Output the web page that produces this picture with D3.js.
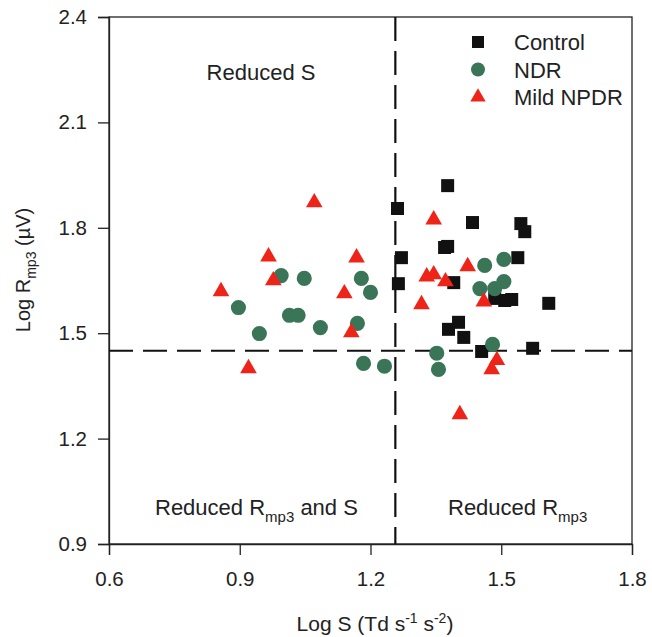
<!DOCTYPE html>
<html>
<head>
<meta charset="utf-8">
<script src="https://cdn.jsdelivr.net/npm/d3@7"></script>
<style>
  body { margin: 0; background: #fff; }
  svg text { font-family: "Liberation Sans", Arial, sans-serif; fill: #222; }
</style>
</head>
<body>
<svg id="chart" width="652" height="637"></svg>
<script>
"use strict";

// ticks
var xTicks = [0.6, 0.9, 1.2, 1.5, 1.8];
var yTicks = [0.9, 1.2, 1.5, 1.8, 2.1, 2.4];

// cut-off lines
var sCut = 1.257;
var rCut = 1.45;

// Control (squares)
var controlS = [1.377, 1.262, 1.434, 1.545, 1.554, 1.370, 1.377, 1.271, 1.538, 1.264,
                1.391, 1.485, 1.508, 1.524, 1.609, 1.402, 1.379, 1.414, 1.455, 1.572];
var controlR = [1.920, 1.855, 1.815, 1.812, 1.789, 1.744, 1.747, 1.715, 1.715, 1.641,
                1.644, 1.599, 1.593, 1.596, 1.585, 1.531, 1.511, 1.488, 1.448, 1.457];

// NDR (circles)
var ndrS = [0.897, 0.945, 0.995, 1.048, 1.014, 1.034, 1.085, 1.170, 1.179, 1.200,
            1.184, 1.232, 1.462, 1.506, 1.506, 1.451, 1.485, 1.480, 1.352, 1.356];
var ndrR = [1.573, 1.499, 1.664, 1.656, 1.551, 1.551, 1.516, 1.528, 1.656, 1.616,
            1.414, 1.406, 1.693, 1.710, 1.647, 1.627, 1.627, 1.468, 1.443, 1.397];

// Mild NPDR (triangles)
var npdrS = [1.071, 0.966, 0.977, 0.857, 1.140, 1.168, 1.156, 0.920, 1.345, 1.329,
             1.345, 1.372, 1.423, 1.317, 1.460, 1.490, 1.478, 1.405];
var npdrR = [1.872, 1.718, 1.650, 1.619, 1.613, 1.715, 1.502, 1.400, 1.823, 1.661,
             1.667, 1.647, 1.690, 1.582, 1.590, 1.423, 1.397, 1.269];

var groups = [
  { name: "Control", s: controlS, r: controlR, shape: d3.symbolSquare, size: 169, color: "#111111" },
  { name: "NDR", s: ndrS, r: ndrR, shape: d3.symbolCircle, size: 180, color: "#3b7558" },
  { name: "Mild NPDR", s: npdrS, r: npdrR, shape: d3.symbolTriangle, size: 120, color: "#ee2419" }
];

var pLeft = 109, pRight = 632, pTop = 17, pBottom = 544;

var svg = d3.select("#chart");

var x = d3.scaleLinear().domain([0.6, 1.8]).range([pLeft, pRight]);
var y = d3.scaleLinear().domain([0.9, 2.4]).range([pBottom, pTop]);

//Frame
svg.append("rect").attr("x", pLeft).attr("y", pTop).attr("width", pRight - pLeft).attr("height", pBottom - pTop)
  .attr("fill", "none").attr("stroke", "#222").attr("stroke-width", 1.3);

//Axes
var xAxis = d3.axisBottom(x).tickValues(xTicks).tickFormat(d3.format(".1f")).tickSize(11).tickPadding(16);
var yAxis = d3.axisLeft(y).tickValues(yTicks).tickFormat(d3.format(".1f")).tickSize(11).tickPadding(11);

var gx = svg.append("g").attr("transform", "translate(0," + pBottom + ")").call(xAxis);
var gy = svg.append("g").attr("transform", "translate(" + pLeft + ",0)").call(yAxis);
[gx, gy].forEach(function (g) {
  g.select(".domain").attr("stroke", "#222").attr("stroke-width", 1.3);
  g.selectAll(".tick line").attr("stroke", "#222").attr("stroke-width", 1.3);
  g.selectAll(".tick text").attr("font-size", 20.5).attr("fill", "#222")
    .style("font-family", "'Liberation Sans', Arial, sans-serif");
});

//Dashed cut-off lines
svg.append("line").attr("x1", x(sCut)).attr("x2", x(sCut)).attr("y1", pTop).attr("y2", pBottom)
  .attr("stroke", "#111").attr("stroke-width", 2.2).attr("stroke-dasharray", "24,10");
svg.append("line").attr("x1", pLeft).attr("x2", pRight).attr("y1", y(rCut)).attr("y2", y(rCut))
  .attr("stroke", "#111").attr("stroke-width", 2.2).attr("stroke-dasharray", "24,10");

//Points
groups.forEach(function (g) {
  var sym = d3.symbol().type(g.shape).size(g.size);
  svg.append("g").selectAll("path").data(g.s).enter().append("path")
    .attr("d", sym)
    .attr("fill", g.color)
    .attr("transform", function (d, i) {
      return "translate(" + x(d) + "," + y(g.r[i]) + ")";
    });
});

//Legend
groups.forEach(function (g, i) {
  var ly = 42 + i * 27.5;
  svg.append("path").attr("d", d3.symbol().type(g.shape).size(g.size * 0.85))
    .attr("fill", g.color).attr("transform", "translate(478," + ly + ")");
  svg.append("text").attr("x", 514).attr("y", ly + 8).attr("font-size", 22).text(g.name);
});

//Quadrant labels
svg.append("text").attr("x", 261).attr("y", 80).attr("text-anchor", "middle").attr("font-size", 22).text("Reduced S");

var q1 = svg.append("text").attr("x", 155).attr("y", 515).attr("font-size", 22);
q1.append("tspan").text("Reduced R");
q1.append("tspan").attr("font-size", 15).attr("dy", 7).text("mp3");
q1.append("tspan").attr("dy", -7).text(" and S");

var q2 = svg.append("text").attr("x", 448).attr("y", 515).attr("font-size", 22);
q2.append("tspan").text("Reduced R");
q2.append("tspan").attr("font-size", 15).attr("dy", 7).text("mp3");

//Axis titles
var xt = svg.append("text").attr("x", 375).attr("y", 631).attr("text-anchor", "middle").attr("font-size", 21);
xt.append("tspan").text("Log S (Td s");
xt.append("tspan").attr("font-size", 14).attr("dy", -8).text("-1");
xt.append("tspan").attr("dy", 8).text(" s");
xt.append("tspan").attr("font-size", 14).attr("dy", -8).text("-2");
xt.append("tspan").attr("dy", 8).text(")");

var yt = svg.append("text").attr("transform", "translate(30,270) rotate(-90)").attr("text-anchor", "middle").attr("font-size", 20);
yt.append("tspan").text("Log R");
yt.append("tspan").attr("font-size", 14).attr("dy", 6).text("mp3");
yt.append("tspan").attr("dy", -6).text(" (\u00b5V)");
</script>
</body>
</html>
